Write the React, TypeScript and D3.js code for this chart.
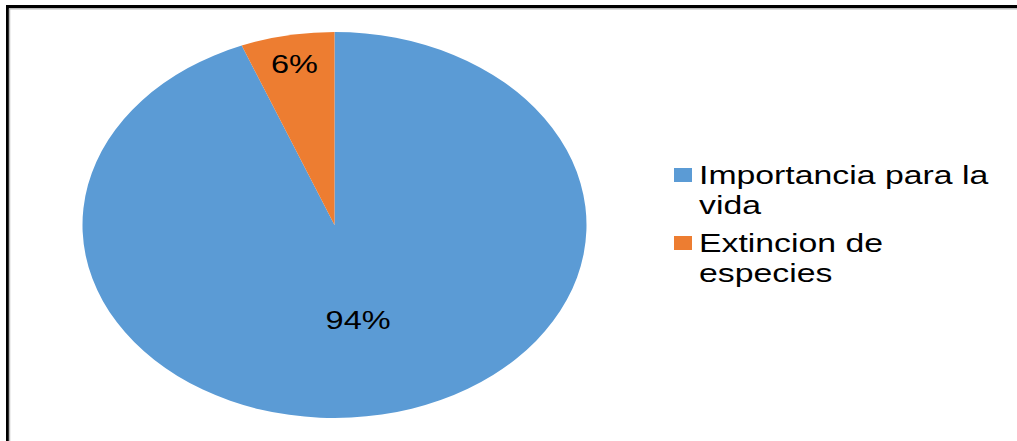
import React from "react";
import * as d3 from "d3";

const categories = ["Importancia para la vida", "Extincion de especies"];
const values = [94, 6];
const legendLines = [["Importancia para la", "vida"], ["Extincion de", "especies"]];
const colors = ["#5B9BD5", "#ED7D31"];

const W = 1017;
const H = 441;
const cx = 334.5;
const cy = 225;
const R = 193;
const SX = 252 / 193;
const TX = 1.3;
const labelFrac = [0.5, 0.85];

export default function App() {
  const pie = d3.pie<number>().sort(null).value((d) => d);
  const arcs = pie(values);
  const arc = d3.arc<d3.PieArcDatum<number>>().innerRadius(0).outerRadius(R);
  const total = d3.sum(values);

  return (
    <svg
      width={W}
      height={H}
      style={{ position: "absolute", left: 0, top: 0, background: "#fff" }}
      fontFamily="'Liberation Sans', Arial, sans-serif"
    >
      <rect x={0} y={0} width={W} height={H} fill="#fff" />
      {/* border */}
      <line x1={7.5} y1={6} x2={7.5} y2={H + 5} stroke="#000" strokeWidth={3} />
      <line x1={6} y1={6.5} x2={W + 5} y2={6.5} stroke="#000" strokeWidth={3} />
      <line x1={9.5} y1={8.5} x2={9.5} y2={H + 5} stroke="#bbb" strokeWidth={1.5} />
      <line x1={9} y1={8.8} x2={W + 5} y2={8.8} stroke="#bbb" strokeWidth={1.5} />

      <g transform={`translate(${cx},${cy}) scale(${SX},1)`}>
        {arcs.map((a, i) => (
          <path key={i} d={arc(a) || ""} fill={colors[i]} />
        ))}
      </g>

      {arcs.map((a, i) => {
        const mid = (a.startAngle + a.endAngle) / 2;
        const r = R * labelFrac[i];
        const x = cx + Math.sin(mid) * r * SX;
        const y = cy - Math.cos(mid) * r;
        const pct = Math.round((a.data / total) * 100) + "%";
        return (
          <text
            key={i}
            transform={`translate(${x},${y + 9}) scale(${TX},1)`}
            textAnchor="middle"
            fontSize={25}
            fill="#000"
          >
            {pct}
          </text>
        );
      })}

      {categories.map((c, i) => {
        const top = i === 0 ? 184 : 252;
        return (
          <g key={c}>
            <rect x={674} y={top - 16} width={18} height={14} fill={colors[i]} />
            {legendLines[i].map((line, j) => (
              <text
                key={j}
                transform={`translate(699,${top + j * 30}) scale(${TX},1)`}
                fontSize={26}
                fill="#000"
              >
                {line}
              </text>
            ))}
          </g>
        );
      })}
    </svg>
  );
}
